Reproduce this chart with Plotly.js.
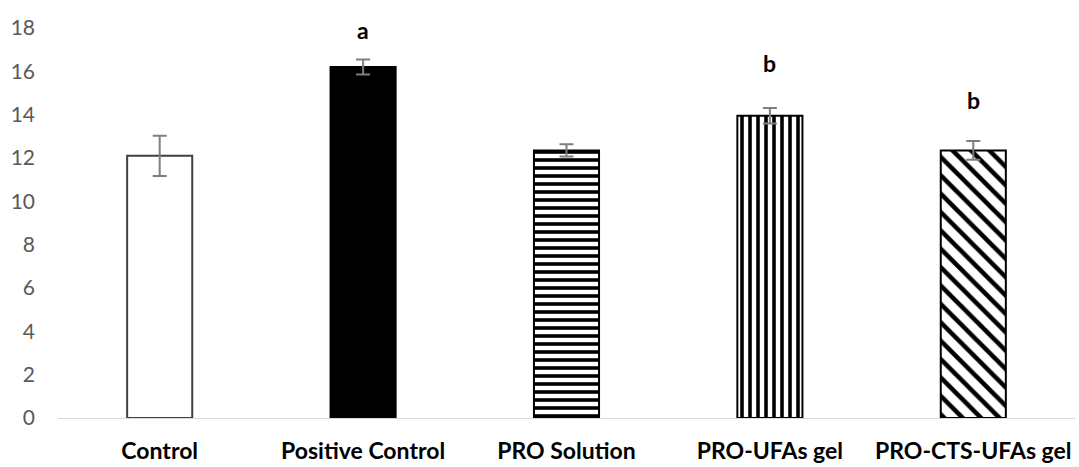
<!DOCTYPE html>
<html>
<head>
<meta charset="utf-8">
<script src="https://cdn.plot.ly/plotly-3.0.1.min.js"></script>
<style>html,body{margin:0;padding:0;background:#fff;}#chart{width:1079px;height:467px;}</style>
</head>
<body>
<div id="chart"></div>
<script>
const categories = ["Control", "Positive Control", "PRO Solution", "PRO-UFAs gel", "PRO-CTS-UFAs gel"];
const values = [12.1, 16.2, 12.35, 13.95, 12.35];
const errors = [0.93, 0.35, 0.28, 0.36, 0.43];
const letters = ["", "a", "", "b", "b"];
const letterY = [0, 17.9, 0, 16.4, 14.7];
const patternShapes = ["", "", "-", "|", "\\"];
const fillColors = ["#ffffff", "#000000", "#ffffff", "#ffffff", "#ffffff"];
const lineColors = ["#404040", "#000000", "#000000", "#000000", "#000000"];
const yTicks = [0, 2, 4, 6, 8, 10, 12, 14, 16, 18];

const patternSize = [8, 8, 8, 8, 13];
const patternSolidity = [0.4, 0.4, 0.45, 0.45, 0.35];

const traces = categories.map((c, i) => {
  const marker = {color: fillColors[i], line: {color: lineColors[i], width: 2}};
  if (patternShapes[i]) {
    marker.pattern = {
      shape: patternShapes[i], fgcolor: "#000000", bgcolor: "#ffffff",
      fillmode: "replace", size: patternSize[i], solidity: patternSolidity[i]
    };
  }
  return {
    type: "bar", x: [c], y: [values[i]], width: 0.32, marker: marker,
    error_y: {type: "data", array: [errors[i]], visible: true, color: "#7f7f7f", thickness: 2, width: 7},
    hoverinfo: "none", name: c
  };
});

const annotations = [];
letters.forEach((t, i) => {
  if (t) annotations.push({
    x: categories[i], y: letterY[i], xref: "x", yref: "y", text: "<b>" + t + "</b>",
    showarrow: false, font: {family: "Lato, 'Open Sans', sans-serif", size: 23, color: "#000"}
  });
});

const layout = {
  width: 1079, height: 467,
  margin: {l: 58, r: 4, t: 28, b: 49},
  paper_bgcolor: "#fff", plot_bgcolor: "#fff",
  showlegend: false,
  barmode: "overlay",
  xaxis: {
    type: "category", categoryarray: categories, categoryorder: "array",
    showgrid: false, zeroline: false,
    showline: true, linecolor: "#d9d9d9", linewidth: 1,
    ticks: "", ticklabelstandoff: 12,
    tickfont: {family: "Lato, 'Open Sans', sans-serif", size: 23, color: "#000", weight: "bold"}
  },
  yaxis: {
    range: [0, 18], tickvals: yTicks, ticktext: yTicks.map(String),
    showgrid: false, zeroline: false, showline: false, ticks: "",
    ticklabelstandoff: 22,
    tickfont: {family: "Lato, 'Open Sans', sans-serif", size: 21, color: "#595959"}
  },
  annotations: annotations
};

Plotly.newPlot("chart", traces, layout, {displayModeBar: false, staticPlot: true});
</script>
</body>
</html>
